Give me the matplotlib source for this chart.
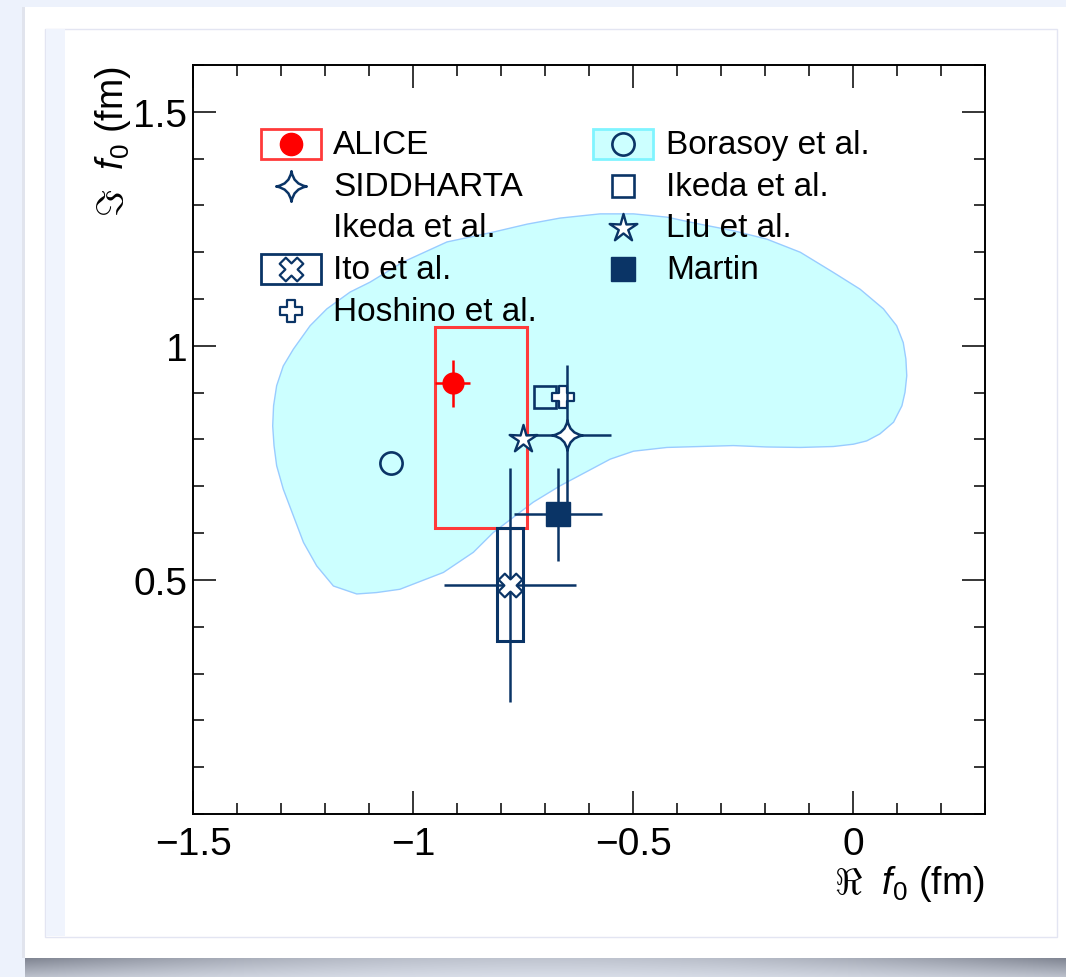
import numpy as np
import matplotlib.pyplot as plt
from matplotlib.path import Path
from matplotlib.patches import Rectangle, Polygon
from matplotlib.ticker import MultipleLocator, FixedLocator, FixedFormatter

plt.rcParams['font.family'] = ['Liberation Sans', 'DejaVu Sans']
plt.rcParams['mathtext.fontset'] = 'custom'
plt.rcParams['mathtext.rm'] = 'Liberation Sans'
plt.rcParams['mathtext.it'] = 'Liberation Sans:italic'

# scattering length f0 = Re + i Im (fm)
alice_re, alice_im = -0.91, 0.92
alice_stat_re, alice_stat_im = 0.04, 0.05
alice_syst_re = (0.04, 0.17)   # (down, up)
alice_syst_im = (0.31, 0.12)

siddharta_re, siddharta_im = -0.65, 0.81
siddharta_err_re, siddharta_err_im = 0.10, 0.15

ito_re, ito_im = -0.78, 0.49
ito_stat_re, ito_stat_im = 0.15, 0.25
ito_syst_re, ito_syst_im = 0.03, 0.12

martin_re, martin_im = -0.67, 0.64
martin_err_re, martin_err_im = 0.10, 0.10

borasoy_re, borasoy_im = -1.05, 0.75
ikeda_re, ikeda_im = -0.70, 0.89
liu_re, liu_im = -0.75, 0.80
hoshino_re, hoshino_im = -0.66, 0.89

# Borasoy et al. allowed region (outline)
band_re = [-1.319, -1.317, -1.310, -1.295, -1.272, -1.234, -1.196, -1.143, -1.098,
           -1.023, -0.923, -0.818, -0.741, -0.666, -0.575, -0.499, -0.423, -0.348,
           -0.272, -0.196, -0.120, -0.045, 0.016, 0.069, 0.099, 0.114, 0.120,
           0.122, 0.118, 0.111, 0.092, 0.061, 0.031, 0.001, -0.045, -0.120,
           -0.196, -0.272, -0.348, -0.423, -0.499, -0.552, -0.590, -0.666, -0.727,
           -0.818, -0.863, -0.931, -1.030, -1.083, -1.128, -1.181, -1.219, -1.249,
           -1.272, -1.295, -1.310, -1.316]
band_im = [0.829, 0.872, 0.915, 0.957, 0.993, 1.043, 1.079, 1.115, 1.136,
           1.179, 1.222, 1.243, 1.260, 1.273, 1.282, 1.282, 1.275, 1.260,
           1.246, 1.228, 1.200, 1.157, 1.121, 1.079, 1.043, 1.007, 0.972,
           0.936, 0.901, 0.872, 0.837, 0.812, 0.797, 0.790, 0.785, 0.783,
           0.784, 0.787, 0.785, 0.783, 0.775, 0.758, 0.739, 0.701, 0.666,
           0.601, 0.559, 0.516, 0.480, 0.473, 0.470, 0.487, 0.530, 0.580,
           0.637, 0.694, 0.744, 0.787]

xtick_vals = [-1.5, -1.0, -0.5, 0.0]
xtick_labels = ['\u22121.5', '\u22121', '\u22120.5', '0']
ytick_vals = [0.5, 1.0, 1.5]
ytick_labels = ['0.5', '1', '1.5']

navy = '#0a3466'
red = '#ff0000'


def plus_path(w=0.35, angle=0.0):
    pts = np.array([(-w, 1), (w, 1), (w, w), (1, w), (1, -w), (w, -w), (w, -1),
                    (-w, -1), (-w, -w), (-1, -w), (-1, w), (-w, w), (-w, 1)])
    a = np.deg2rad(angle)
    rot = np.array([[np.cos(a), -np.sin(a)], [np.sin(a), np.cos(a)]])
    pts = pts @ rot.T
    codes = [Path.MOVETO] + [Path.LINETO] * 11 + [Path.CLOSEPOLY]
    return Path(pts, codes)


def star4_path(c=0.13):
    verts = [(0, 1), (c, c), (1, 0), (c, -c), (0, -1), (-c, -c), (-1, 0), (-c, c), (0, 1), (0, 1)]
    codes = [Path.MOVETO] + [Path.CURVE3] * 8 + [Path.CLOSEPOLY]
    return Path(verts, codes)


def star5_path(inner=0.34):
    ang = np.pi / 2 + np.arange(10) * np.pi / 5
    r = np.where(np.arange(10) % 2 == 0, 1.0, inner)
    pts = np.column_stack([r * np.cos(ang), r * np.sin(ang)])
    pts = np.vstack([pts, pts[:1]])
    codes = [Path.MOVETO] + [Path.LINETO] * 9 + [Path.CLOSEPOLY]
    return Path(pts, codes)


cross_m = plus_path()
xcross_m = plus_path(angle=45)
star4_m = star4_path()
star5_m = star5_path()

fig = plt.figure(figsize=(10.66, 9.78), dpi=100)
fig.patch.set_facecolor('#edf2fc')

# page card and its drop shadow
bg = np.array([237, 242, 252]) / 255
dark = np.array([125, 130, 143]) / 255
gx = np.linspace(-1, 1, 400)[None, :]
gy = np.linspace(0, 1, 20)[:, None]
t = (0.42 + 0.58 * gx ** 2) * (1 - 0.55 * gy)
shade = bg[None, None, :] * (1 - t[..., None]) + dark[None, None, :] * t[..., None]
sh = fig.add_axes([0.0234, 0.0, 0.977, 0.0195], zorder=-19)
sh.imshow(shade, aspect='auto', extent=(0, 1, 0, 1))
sh.axis('off')
fig.patches.append(Rectangle((0.0205, 0.0195), 0.004, 0.972, transform=fig.transFigure,
                             fc='#e1e4ed', ec='none', zorder=-18))
fig.patches.append(Rectangle((0.0234, 0.0194), 0.98, 0.9724, transform=fig.transFigure,
                             fc='white', ec='none', zorder=-17))
fig.patches.append(Rectangle((0.0422, 0.0414), 0.9494, 0.928, transform=fig.transFigure,
                             fc='white', ec='#e3e5f2', lw=1, zorder=-16))
fig.patches.append(Rectangle((0.0427, 0.0419), 0.0183, 0.927, transform=fig.transFigure,
                             fc='#f0f4fd', ec='none', zorder=-15))

ax = fig.add_axes([0.1811, 0.1667, 0.7430, 0.7658])
ax.set_facecolor('none')
ax.set_xlim(-1.5, 0.3)
ax.set_ylim(0, 1.6)

ax.add_patch(Polygon(np.column_stack([band_re, band_im]), closed=True,
                     fc='#ccffff', ec='#99ccff', lw=1.0, joinstyle='round', zorder=1))

# systematic boxes
ax.add_patch(Rectangle((alice_re - alice_syst_re[0], alice_im - alice_syst_im[0]),
                       sum(alice_syst_re), sum(alice_syst_im),
                       fc='none', ec='#ff3a3a', lw=2.2, zorder=2))
ax.add_patch(Rectangle((ito_re - ito_syst_re, ito_im - ito_syst_im),
                       2 * ito_syst_re, 2 * ito_syst_im,
                       fc='none', ec=navy, lw=2.2, zorder=2))

# statistical errors
ax.errorbar(ito_re, ito_im, xerr=ito_stat_re, yerr=ito_stat_im, fmt='none',
            ecolor=navy, elinewidth=1.8, capsize=0, zorder=3)
ax.errorbar(martin_re, martin_im, xerr=martin_err_re, yerr=martin_err_im, fmt='none',
            ecolor=navy, elinewidth=1.8, capsize=0, zorder=3)
ax.errorbar(alice_re, alice_im, xerr=alice_stat_re, yerr=alice_stat_im, fmt='none',
            ecolor=red, elinewidth=1.8, capsize=0, zorder=3)

# model points
ax.plot(borasoy_re, borasoy_im, 'o', ms=16, mfc='none', mec=navy, mew=1.9, zorder=4)
ax.plot(ikeda_re, ikeda_im, 's', ms=15.5, mfc='none', mec=navy, mew=1.9, zorder=4)
ax.plot(hoshino_re, hoshino_im, marker=cross_m, ms=16, mfc='white', mec=navy, mew=1.6, ls='none', zorder=4)
ax.errorbar(siddharta_re, siddharta_im, xerr=siddharta_err_re, yerr=siddharta_err_im, fmt='none',
            ecolor=navy, elinewidth=1.8, capsize=0, zorder=4.5)
ax.plot(liu_re, liu_im, marker=star5_m, ms=21, mfc='white', mec=navy, mew=1.7, ls='none', zorder=5)
ax.plot(siddharta_re, siddharta_im, marker=star4_m, ms=22, mfc='white', mec=navy, mew=1.8, ls='none', zorder=5)
ax.plot(martin_re, martin_im, 's', ms=17.5, mfc=navy, mec=navy, zorder=5)
ax.plot(ito_re, ito_im, marker=xcross_m, ms=17, mfc='white', mec=navy, mew=1.6, ls='none', zorder=5)
ax.plot(alice_re, alice_im, 'o', ms=15, mfc=red, mec=red, zorder=6)

# legend
lx_l, lx_r = 0.1237, 0.5429
tx_l, tx_r = 0.1768, 0.5972
box_w, box_h = 0.0758, 0.04
mark_y = [0.8945, 0.8385, 0.7824, 0.7276, 0.6716]
base_y = [0.8825, 0.8271, 0.7717, 0.7156, 0.6595]
tr = ax.transAxes

ax.add_patch(Rectangle((lx_l - box_w / 2, mark_y[0] - box_h / 2), box_w, box_h, transform=tr,
                       fc='white', ec='#ff3a3a', lw=2, zorder=7))
ax.plot(lx_l, mark_y[0], 'o', ms=16, mfc=red, mec=red, transform=tr, zorder=8)
ax.plot(lx_l, mark_y[1], marker=star4_m, ms=22, mfc='white', mec=navy, mew=1.8, ls='none',
        transform=tr, zorder=8)
ax.add_patch(Rectangle((lx_l - box_w / 2, mark_y[3] - box_h / 2), box_w, box_h, transform=tr,
                       fc='white', ec=navy, lw=2, zorder=7))
ax.plot(lx_l, mark_y[3], marker=xcross_m, ms=17, mfc='white', mec=navy, mew=1.6, ls='none',
        transform=tr, zorder=8)
ax.plot(lx_l, mark_y[4], marker=cross_m, ms=16, mfc='white', mec=navy, mew=1.6, ls='none',
        transform=tr, zorder=8)

ax.add_patch(Rectangle((lx_r - box_w / 2, mark_y[0] - box_h / 2), box_w, box_h, transform=tr,
                       fc='#ccffff', ec='#80f4ff', lw=2, zorder=7))
ax.plot(lx_r, mark_y[0], 'o', ms=16, mfc='none', mec=navy, mew=1.9, transform=tr, zorder=8)
ax.plot(lx_r, mark_y[1], 's', ms=15.5, mfc='white', mec=navy, mew=1.9, transform=tr, zorder=8)
ax.plot(lx_r, mark_y[2], marker=star5_m, ms=21, mfc='white', mec=navy, mew=1.7, ls='none',
        transform=tr, zorder=8)
ax.plot(lx_r, mark_y[3], 's', ms=17.5, mfc=navy, mec=navy, transform=tr, zorder=8)

left_labels = ['ALICE', 'SIDDHARTA', 'Ikeda et al.', 'Ito et al.', 'Hoshino et al.']
right_labels = ['Borasoy et al.', 'Ikeda et al.', 'Liu et al.', 'Martin']
for lab, yb in zip(left_labels, base_y):
    ax.text(tx_l, yb, lab, transform=tr, fontsize=24, va='baseline', ha='left', zorder=9)
for lab, yb in zip(right_labels, base_y):
    ax.text(tx_r, yb, lab, transform=tr, fontsize=24, va='baseline', ha='left', zorder=9)

# axes styling
ax.xaxis.set_major_locator(FixedLocator(xtick_vals))
ax.xaxis.set_major_formatter(FixedFormatter(xtick_labels))
ax.yaxis.set_major_locator(FixedLocator(ytick_vals))
ax.yaxis.set_major_formatter(FixedFormatter(ytick_labels))
ax.xaxis.set_minor_locator(MultipleLocator(0.1))
ax.yaxis.set_minor_locator(MultipleLocator(0.1))
ax.tick_params(which='both', direction='in', top=True, right=True, width=1.1, color='black')
ax.tick_params(which='major', length=16.5, labelsize=28)
ax.tick_params(which='minor', length=8)
ax.tick_params(axis='x', which='major', pad=9)
ax.tick_params(axis='y', which='major', pad=4)
for s in ax.spines.values():
    s.set_linewidth(1.4)

ax.set_xlabel(r'$\Re\ \ f_{0}$ (fm)', fontsize=27, loc='right')
ax.xaxis.set_label_coords(1.0, -0.066)
ax.set_ylabel(r'$\Im\ \ f_{0}$ (fm)', fontsize=27, loc='top')
ax.yaxis.set_label_coords(-0.076, 1.0)

fig.savefig('out.png', dpi=100, facecolor=fig.get_facecolor())
